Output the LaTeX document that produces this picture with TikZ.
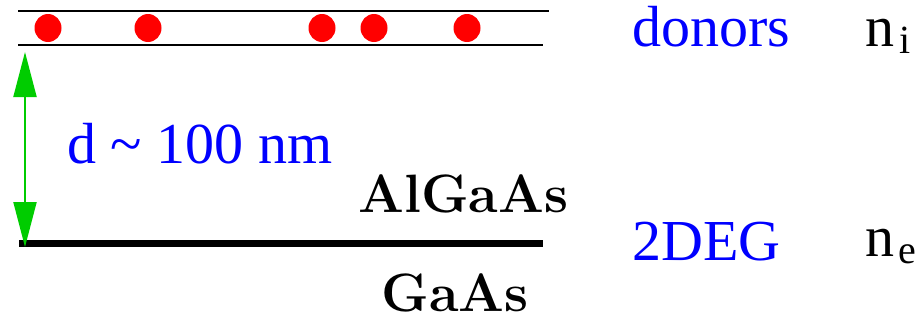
\documentclass[tikz,border=0pt]{standalone}
\usepackage{fontspec}
\usetikzlibrary{arrows.meta}
\newfontfamily\tmfont{Liberation Serif}
\definecolor{arrowgreen}{RGB}{0,204,0}
\begin{document}
\begin{tikzpicture}[x=0.5pt,y=-0.5pt,
  thinline/.style={line width=1pt,black},
  thickline/.style={line width=3.5pt,black},
  dot/.style={fill=red,draw=none},
  bluetext/.style={anchor=base west,inner sep=0pt,text=blue,font=\tmfont\fontsize{29}{33}\selectfont},
  blacktext/.style={anchor=base west,inner sep=0pt,text=black,font=\tmfont\fontsize{29}{33}\selectfont},
  layertext/.style={anchor=base west,inner sep=0pt,text=black,font=\bfseries\fontsize{27}{31}\selectfont},
  dim/.style={line width=1pt,arrowgreen,{Triangle[length=22.5pt,width=11.5pt]}-{Triangle[length=22.5pt,width=11.5pt]}}
]
\useasboundingbox (0,0) rectangle (919,322);
% layer lines
\coordinate (t1) at (18,11);
\coordinate (t2) at (549,11);
\coordinate (b1) at (18,45);
\coordinate (b2) at (543,45);
\coordinate (g1) at (19,243.5);
\coordinate (g2) at (543,243.5);
\draw[thinline] (t1) -- (t2);
\draw[thinline] (b1) -- (b2);
\draw[thickline] (g1) -- (g2);
% donors
\foreach \x in {48,148,322,374,467}{
  \fill[dot] (\x,28) ellipse [x radius=13.5, y radius=14];
}
% dimension arrow
\coordinate (atop) at (25,52);
\coordinate (abot) at (25,247);
\draw[dim] (atop) -- (abot);
% labels
\node[bluetext] (dlab) at (67,163) {d {\char"7E} 100 nm};
\node[layertext] (algaas) at (358,212) {AlGaAs};
\node[layertext] (gaas) at (381,311) {GaAs};
\node[bluetext] (donors) at (632,46) {donors};
\node[bluetext] (twodeg) at (632,260) {2DEG};
\node[blacktext] (ni) at (865,46) {n\kern2.5pt\raisebox{-3.5pt}{\fontsize{20}{22}\selectfont i}};
\node[blacktext] (ne) at (865,256) {n\kern2pt\raisebox{-3.5pt}{\fontsize{20}{22}\selectfont e}};
\end{tikzpicture}
\end{document}
